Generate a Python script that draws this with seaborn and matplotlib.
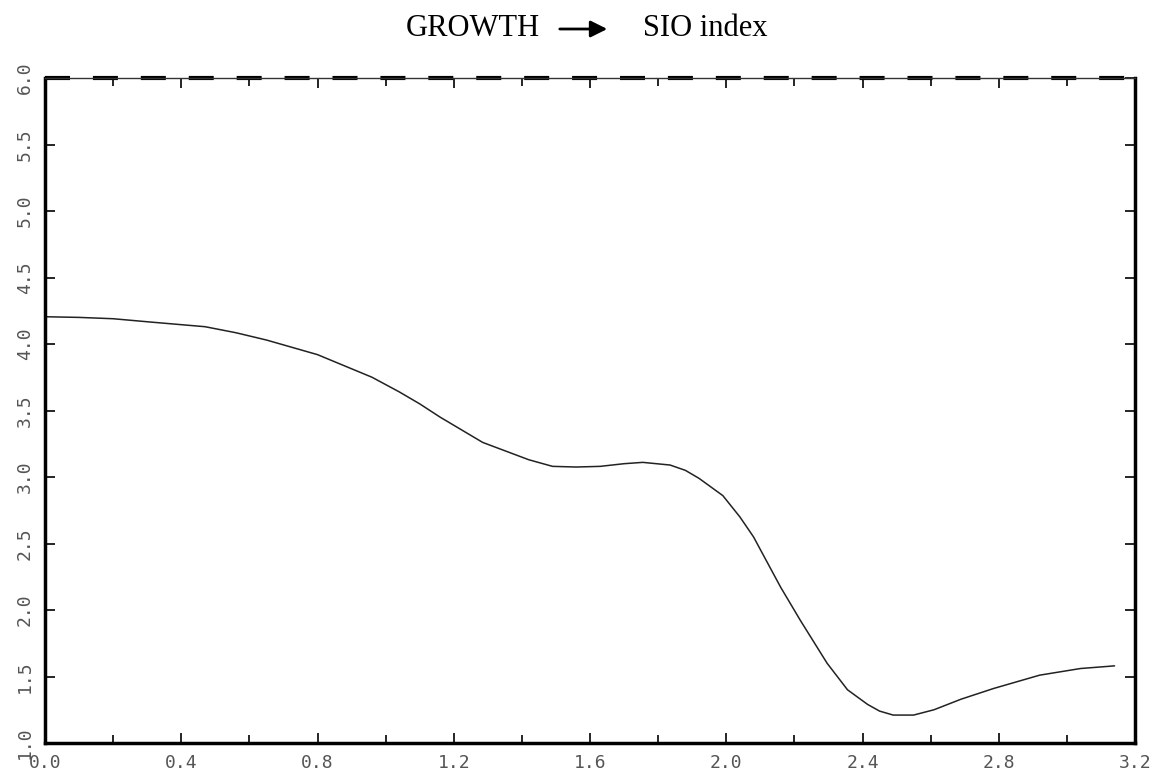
import matplotlib
matplotlib.use("Agg")
import matplotlib.pyplot as plt
from matplotlib.ticker import MultipleLocator
import seaborn as sns
import pandas as pd

# values
growth = [0.0, 0.1, 0.2, 0.31, 0.47, 0.56, 0.65, 0.8, 0.96, 1.04, 1.1, 1.16, 1.285,
          1.42, 1.49, 1.56, 1.63, 1.7, 1.755, 1.835, 1.88, 1.92, 1.99, 2.04, 2.08,
          2.12, 2.16, 2.218, 2.296, 2.356, 2.415, 2.45, 2.49, 2.55, 2.61, 2.65, 2.69,
          2.785, 2.92, 3.04, 3.14]
sio = [4.205, 4.2, 4.19, 4.165, 4.13, 4.085, 4.03, 3.92, 3.75, 3.64, 3.55, 3.45, 3.26,
       3.13, 3.08, 3.075, 3.08, 3.1, 3.11, 3.09, 3.05, 2.99, 2.86, 2.70, 2.55,
       2.36, 2.17, 1.92, 1.60, 1.40, 1.29, 1.24, 1.21, 1.21, 1.25, 1.29, 1.33,
       1.41, 1.51, 1.56, 1.58]
df = pd.DataFrame({"growth": growth, "sio": sio})

sns.set_style("ticks")
plt.rcParams["font.family"] = ["DejaVu Sans Mono"]

fig = plt.figure(figsize=(11.56, 7.76), dpi=100)
ax = fig.add_axes([45 / 1156, 33 / 776, 1090 / 1156, 665 / 776])

sns.lineplot(data=df, x="growth", y="sio", ax=ax, color="#222222", linewidth=1.1)

ax.set_xlim(0, 3.2)
ax.set_ylim(1, 6)
ax.xaxis.set_major_locator(MultipleLocator(0.4))
ax.xaxis.set_minor_locator(MultipleLocator(0.2))
ax.yaxis.set_major_locator(MultipleLocator(0.5))
ax.set_xlabel("")
ax.set_ylabel("")

ax.tick_params(which="both", direction="in", length=7, width=1.2, color="black",
               top=True, right=True, labelsize=13, labelcolor="#555555", pad=8)
ax.tick_params(which="minor", length=6)
ax.set_xticklabels([f"{v:.1f}" for v in ax.get_xticks()])
ax.set_yticklabels([f"{v:.1f}" for v in ax.get_yticks()], rotation=90, va="center")

for side in ["left", "bottom", "right"]:
    ax.spines[side].set_linewidth(2.5)
    ax.spines[side].set_color("black")
ax.spines["top"].set_linewidth(1)
ax.spines["top"].set_color("#333333")
ax.axhline(6, color="black", linewidth=3, linestyle=(0, (6, 5.5)), clip_on=False)

# title: GROWTH -> SIO index
fig.text(473 / 1156, 1 - 28 / 776, "GROWTH", ha="center", va="center",
         fontsize=22, family="Liberation Serif", color="black")
fig.text(705 / 1156, 1 - 28 / 776, "SIO index", ha="center", va="center",
         fontsize=22, family="Liberation Serif", color="black")
fig.patches.append(matplotlib.patches.FancyArrowPatch(
    (557 / 1156, 1 - 29 / 776), (610 / 1156, 1 - 29 / 776),
    transform=fig.transFigure, arrowstyle="-|>,head_length=10,head_width=5",
    linewidth=2, color="black", mutation_scale=1))

fig.savefig("out.png", dpi=100)
